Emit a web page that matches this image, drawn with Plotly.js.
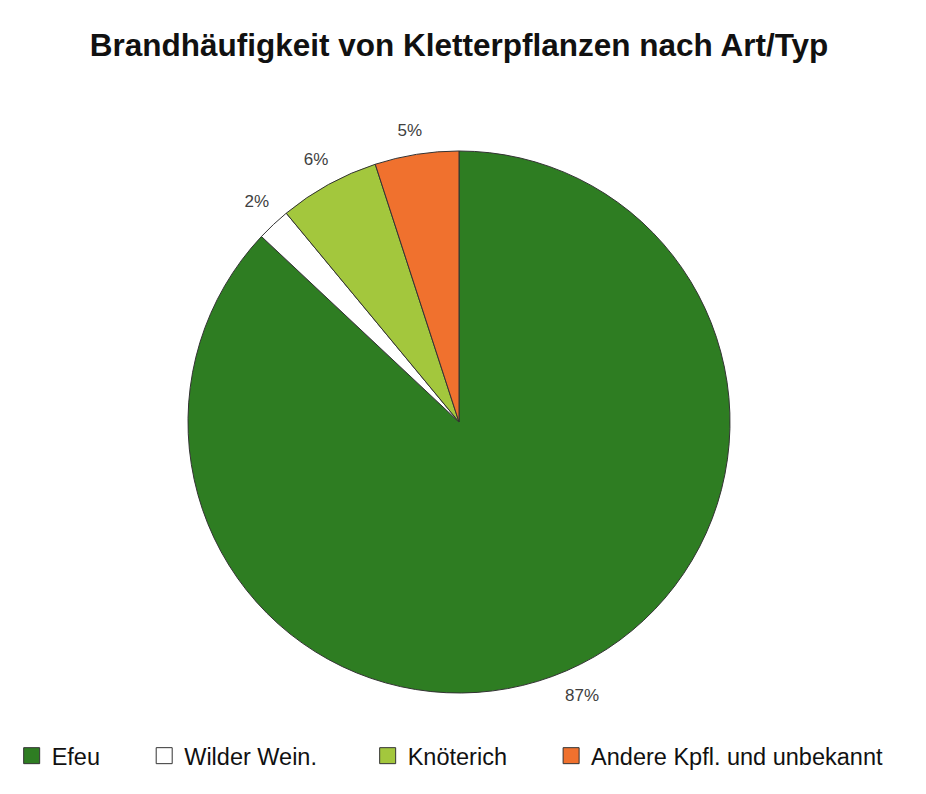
<!DOCTYPE html>
<html>
<head>
<meta charset="utf-8">
<script src="https://cdn.plot.ly/plotly-3.0.1.min.js"></script>
<style>html,body{margin:0;padding:0;background:#fff;}#chart{width:926px;height:794px;}</style>
</head>
<body>
<div id="chart"></div>
<script>
const categories = ["Efeu", "Wilder Wein.", "Knöterich", "Andere Kpfl. und unbekannt"];
const shares = [87, 2, 6, 5];
const colors = ["#2E7D22", "#FFFFFF", "#A3C73D", "#F0712E"];
const titleText = "Brandhäufigkeit von Kletterpflanzen nach Art/Typ";

const W = 926, H = 794;
const cx = 459, cy = 422, r = 271, rLabel = 284;
const NBSP = "\u00a0";
const legendPad = [6, 7, 6, 0];

function dom(rad) {
  return { x: [(cx - rad) / W, (cx + rad) / W], y: [1 - (cy + rad) / H, 1 - (cy - rad) / H] };
}

const pieTrace = {
  type: "pie",
  labels: categories,
  values: shares,
  sort: false,
  direction: "clockwise",
  rotation: 0,
  marker: { colors: colors, line: { color: "#333333", width: 1 } },
  textinfo: "none",
  domain: dom(r),
  showlegend: false,
  hoverinfo: "label+percent"
};

const labelTrace = {
  type: "pie",
  labels: categories,
  values: shares,
  sort: false,
  direction: "clockwise",
  rotation: 2.5,
  marker: { colors: categories.map(() => "rgba(0,0,0,0)"), line: { width: 0 } },
  texttemplate: "%{percent:.0%}",
  textposition: "outside",
  outsidetextfont: { family: "Liberation Sans, Arial, sans-serif", size: 17, color: "#404040" },
  domain: dom(rLabel),
  showlegend: false,
  hoverinfo: "skip"
};

const legendTraces = categories.map((c, i) => ({
  type: "scatter",
  mode: "markers",
  x: [null], y: [null],
  name: c + NBSP.repeat(legendPad[i]),
  marker: { symbol: "square", size: 16, color: colors[i], line: { color: "#333333", width: 1 } },
  showlegend: true,
  hoverinfo: "skip"
}));

const layout = {
  width: W, height: H,
  margin: { l: 0, r: 0, t: 0, b: 0 },
  paper_bgcolor: "#ffffff",
  plot_bgcolor: "rgba(0,0,0,0)",
  font: { family: "Liberation Sans, Arial, sans-serif", color: "#000000" },
  title: { text: "<b>" + titleText + "</b>", font: { size: 31.5, color: "#111111" }, x: 0.4957, xanchor: "center", y: 0.943, yanchor: "middle" },
  xaxis: { visible: false, range: [0, 1] },
  yaxis: { visible: false, range: [0, 1] },
  showlegend: true,
  legend: {
    orientation: "h", x: 0.0126, xanchor: "left", y: 0.048, yanchor: "middle",
    font: { size: 23.5, color: "#111111" }, itemwidth: 30, traceorder: "normal"
  }
};

Plotly.newPlot("chart", [pieTrace, labelTrace].concat(legendTraces), layout, { displayModeBar: false, staticPlot: true });
</script>
</body>
</html>
